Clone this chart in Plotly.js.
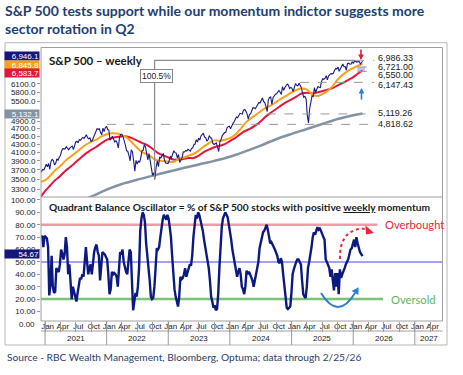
<!DOCTYPE html>
<html><head><meta charset="utf-8">
<script src="https://cdn.plot.ly/plotly-3.0.1.min.js"></script>
<style>html,body{margin:0;padding:0;background:#fff;}#chart{width:463px;height:375px;}</style>
</head><body><div id="chart"></div>
<script>
// ---------------- DATA ----------------
const spxStart = '2020-12-04'; // weekly (Fridays)
const spx = [
3699,3663,3709,3703,3756,
3825,3768,3841,3714,3887,3934,3907,3811,3842,3943,3913,3975,4020,4129,4185,4180,4181,4233,4174,4156,4204,4230,4247,4166,4281,4352,4370,4327,4412,4395,4437,4468,4442,4509,4535,4459,4433,4455,4357,4391,4471,4545,4605,4697,4683,4698,4595,4538,4712,4620,4726,4766,
4677,4662,4398,4432,4500,4419,4349,4385,4329,4204,4463,4543,4546,4488,4393,4272,4132,4123,4024,3901,4158,4109,3901,3675,3912,3825,3899,3863,3962,4130,4145,4280,4228,4058,3924,4067,3873,3693,3586,3640,3520,3753,3901,3771,3993,3965,4026,4072,3934,3852,3845,3840,
3895,3999,3973,4071,4136,4090,4079,3970,4046,3862,3917,3971,4109,4105,4138,4133,4169,4136,4124,4192,4205,4282,4299,4410,4348,4450,4399,4505,4536,4582,4478,4464,4370,4406,4516,4457,4450,4320,4288,4308,4327,4224,4117,4358,4415,4514,4559,4595,4604,4719,4755,4770,
4697,4784,4840,4891,4959,5027,5005,5089,5137,5124,5117,5234,5254,5204,5123,4967,5100,5128,5223,5303,5305,5278,5347,5432,5465,5460,5567,5615,5505,5459,5346,5186,5554,5634,5648,5408,5626,5703,5738,5751,5815,5865,5808,5729,5995,5870,5969,6032,6090,6051,5931,5970,
5942,5827,5997,6101,6041,6026,6115,6013,5955,5770,5639,5667,5581,5074,4860,5283,5525,5687,5660,5958,5803,5912,6000,5977,5968,6173,6279,6260,6297,6389,6238,6389,6450,6467,6460,6482,6584,6664,6644,6716,6553,6664,6792,6840,6729,6734,6603,6849,6870,6827,6835,6930,
6858,6966,6940,6915,6939,6932,6836,6909,6946.1
];
const maStartMonth = '2021-01'; // monthly points
const orangeMA = [
3480,3578,3687,3783,3899,3994,4084,4190,4288,4353,4412,4493,
4550,4576,4568,4527,4463,4335,4203,4095,4050,3964,3907,3900,
3880,3874,3935,3972,4017,4064,4139,4242,4331,4391,4380,4406,
4449,4530,4672,4853,4976,5085,5201,5303,5380,5484,5592,5692,
5798,5891,5930,5900,5740,5680,5740,5850,6017,6252,6430,6570,
6680,6780];
const redMA = [
3271,3381,3484,3574,3679,3767,3866,3972,4072,4157,4232,4320,
4404,4452,4480,4493,4493,4448,4387,4323,4267,4176,4081,4026,
3976,3929,3933,3941,3966,3964,4020,4108,4166,4221,4256,4296,
4374,4450,4546,4637,4702,4790,4902,5043,5161,5267,5378,5480,
5573,5671,5761,5790,5763,5797,5838,5893,5946,6040,6130,6230,
6340,6480];
const maFirst = {orange:3455, red:3168};          // left edge (Dec 2020)
const maLast  = {orange:6845.8, red:6583.7, gray:5132.1, price:6946.1};
const grayMA = [2940,2990,3060,3170,3300,3410,3495,3580,3660,3740,3820,3900,3994,4120,4260,4420,4560,4690,4830,4970,5080]; // quarterly from 2021-01
const lastDate = '2026-02-25';

const oscStart = '2020-12-08'; // weekly
const osc = [
70,71,62,71,
70,69,62,23,32,55,30,25,26,45,43,42,48,60,57,52,56,70,62,40,48,36,20,30,26,22,18,25,33,37,36,40,38,48,62,50,40,45,48,40,50,58,62,64,58,55,35,45,58,57,56,54,
52,40,24,28,42,40,41,40,38,30,45,58,56,60,50,45,42,40,50,60,58,25,11,18,25,22,30,45,75,85,90,88,82,65,55,50,35,22,20,21,30,45,61,60,62,70,78,84,88,86,84,
88,85,78,70,55,40,28,22,18,14,22,38,36,37,40,45,38,42,45,48,47,55,70,80,88,85,90,88,84,80,75,68,62,55,51,45,35,22,18,13,15,11,12,24,45,65,78,85,88,90,88,86,
80,75,68,60,54,50,45,38,42,45,40,30,28,24,30,43,40,42,40,38,35,30,35,43,45,50,61,65,70,74,75,78,80,76,70,65,66,63,62,60,58,55,50,49,53,50,40,30,24,13,12,13,14,
25,40,44,48,50,52,52,50,48,35,24,22,21,30,45,50,55,62,70,74,72,75,78,76,77,75,72,70,68,52,50,48,45,38,44,35,27,41,30,41,24,44,37,40,42,45,48,50,52,56,60,61,
65,68,62,70,65,61,58,54.67];

const yTicks = [3300,3500,3700,3900,4100,4300,4500,4700,4900,5500,5800,6100];
const oscTicks = [10,20,30,40,50,60,70,80,90,100];
const levels = [6986.33, 6721.00, 6550.00, 6147.43, 5119.26, 4818.62];
const levelStart = ['2026-01-12','2026-01-28','2026-01-28','2025-02-19','2024-08-05','2022-01-04'];
const levelShift = [2, 0, -4, -3, 1, 0];
const lowDate = '2022-10-12', lowValue = 3491, athDate = '2026-01-12';
const gainLabel = '100.5%';
const years = [2021,2022,2023,2024,2025,2026,2027];
const overbought = 80, oversold = 20, midLine = 50;

// ---------------- HELPERS ----------------
const W=463,H=375;
const px=x=>x/W, py=y=>1-y/H;
const P=(x,y)=>`${px(x).toFixed(5)},${py(y).toFixed(5)}`;
function weekly(start,n){const d0=Date.parse(start+'T00:00:00Z');const o=[];for(let i=0;i<n;i++)o.push(new Date(d0+i*7*864e5).toISOString().slice(0,10));return o;}
function monthly(start,n,step){const [y,m]=start.split('-').map(Number);const o=[];for(let i=0;i<n;i++){const t=(m-1)+i*step;o.push(`${y+Math.floor(t/12)}-${String(t%12+1).padStart(2,'0')}-01`);}return o;}
const fmt2=v=>v.toLocaleString('en-US',{minimumFractionDigits:2,maximumFractionDigits:2});
const fmt1=v=>v.toLocaleString('en-US',{minimumFractionDigits:1,maximumFractionDigits:1});
const L10=Math.log10;

const spxDates = weekly(spxStart, spx.length); spxDates[spxDates.length-1]=lastDate;
const maDates = monthly(maStartMonth, orangeMA.length, 1);
const grayDates = monthly(maStartMonth, grayMA.length, 3);
const oscDates = weekly(oscStart, osc.length); oscDates[oscDates.length-1]=lastDate;
const xStart='2020-12-08', xEnd='2027-06-14', labelEnd='2026-05-06';

const traces = [
 {x:[...grayDates,lastDate], y:[...grayMA,maLast.gray], mode:'lines', line:{color:'#8393a3',width:2.5,shape:'spline'}, xaxis:'x',yaxis:'y',hoverinfo:'skip'},
 {x:[xStart,...maDates,lastDate], y:[maFirst.red,...redMA,maLast.red], mode:'lines', line:{color:'#e3173e',width:2,shape:'spline'}, xaxis:'x',yaxis:'y',hoverinfo:'skip'},
 {x:[xStart,...maDates,lastDate], y:[maFirst.orange,...orangeMA,maLast.orange], mode:'lines', line:{color:'#f7a21b',width:2,shape:'spline'}, xaxis:'x',yaxis:'y',hoverinfo:'skip'},
 {x:spxDates, y:spx, mode:'lines', line:{color:'#1b1b86',width:1.1}, xaxis:'x',yaxis:'y',hoverinfo:'skip'},
 {x:oscDates, y:osc, mode:'lines', line:{color:'#0c1a80',width:2.4}, xaxis:'x',yaxis:'y2',hoverinfo:'skip'},
 {x:[xStart], y:[50], mode:'markers', marker:{opacity:0}, xaxis:'x2', yaxis:'y2', hoverinfo:'skip'}
];

const shapes = [
 {type:'rect',xref:'paper',yref:'paper',x0:px(5),x1:px(447),y0:py(345),y1:py(42.7),line:{color:'#b8b8b8',width:1}},
 {type:'rect',xref:'paper',yref:'paper',x0:px(41),x1:px(442.5),y0:py(321),y1:py(47.5),line:{color:'#a0a0a0',width:1}},
 {type:'line',xref:'paper',yref:'paper',x0:px(41),x1:px(442.5),y0:py(197),y1:py(197),line:{color:'#a0a0a0',width:1}},
 {type:'line',xref:'paper',yref:'paper',x0:px(41),x1:px(442.5),y0:py(331),y1:py(331),line:{color:'#a0a0a0',width:1}},
 // measurement lines
 {type:'line',xref:'x',yref:'y',x0:lowDate,x1:lowDate,y0:lowValue,y1:levels[0],line:{color:'#8c8c8c',width:1.3}},
 {type:'line',xref:'x',yref:'y',x0:lowDate,x1:athDate,y0:levels[0],y1:levels[0],line:{color:'#8c8c8c',width:1.3}},
 {type:'rect',xref:'x',yref:'y',x0:'2026-01-25',x1:'2026-03-12',y0:levels[2],y1:levels[1],fillcolor:'rgba(165,160,235,0.65)',line:{width:0},layer:'below'},
 // lower panel reference lines
 {type:'line',xref:'x',yref:'y2',x0:xStart,x1:'2026-05-24',y0:overbought,y1:overbought,line:{color:'#f29aa6',width:2.5},layer:'below'},
 {type:'line',xref:'x',yref:'y2',x0:xStart,x1:'2026-06-27',y0:oversold,y1:oversold,line:{color:'#79c276',width:2.5},layer:'below'},
 {type:'line',xref:'x',yref:'y2',x0:xStart,x1:xEnd,y0:midLine,y1:midLine,line:{color:'#8585f0',width:1.5},layer:'below'},
 // curved arrows
 {type:'path',xref:'paper',yref:'paper',path:`M${P(340,259)} C${P(339,236)} ${P(352,227)} ${P(367,229)}`,line:{color:'#e8283c',width:2,dash:'dot'}},
 {type:'path',xref:'paper',yref:'paper',path:`M${P(374,233)} L${P(365.5,225.5)} L${P(366,234.5)} Z`,fillcolor:'#e8283c',line:{width:0}},
 {type:'path',xref:'paper',yref:'paper',path:`M${P(321,293)} Q${P(338,321)} ${P(355,293)}`,line:{color:'#2a7fd0',width:2}},
 {type:'path',xref:'paper',yref:'paper',path:`M${P(358.6,287.2)} L${P(358.4,295)} L${P(351.6,291)} Z`,fillcolor:'#2a7fd0',line:{width:0}}
];
levels.forEach((v,i)=>shapes.push({type:'line',xref:'x',yref:'y',x0:(i===0?athDate:levelStart[i]),x1:labelEnd,y0:v,y1:v,line:{color:'#9a9a9a',width:1,dash:'dash'}}));
years.forEach(yr=>shapes.push({type:'line',xref:'x',yref:'paper',x0:`${yr}-01-01`,x1:`${yr}-01-01`,y0:py(345),y1:py(321),line:{color:'#9a9a9a',width:1}}));

const ann = [];
const A=o=>ann.push(Object.assign({showarrow:false},o));
A({text:'<b>S&P 500 – weekly</b>',xref:'paper',yref:'paper',x:px(47),y:py(60),xanchor:'left',yanchor:'middle',font:{family:'Lato',size:11.5,color:'#1a1a1a'}});
A({text:'<b>Quadrant Balance Oscillator = % of S&P 500 stocks with positive <u>weekly</u> momentum</b>',xref:'paper',yref:'paper',x:px(47),y:py(206.5),xanchor:'left',yanchor:'middle',font:{family:'Lato',size:10.2,color:'#1a1a1a'}});
A({text:gainLabel,xref:'paper',yref:'paper',x:px(156),y:py(75.5),xanchor:'center',yanchor:'middle',bgcolor:'#fff',bordercolor:'#888',borderwidth:1,borderpad:1,font:{size:8.5,color:'#222'}});
levels.forEach((v,i)=>A({text:fmt2(v),xref:'paper',yref:'y',x:px(376),y:L10(v),yshift:levelShift[i],xanchor:'left',yanchor:'middle',font:{size:9,color:'#222'}}));
[[maLast.price,'#15157a',5],[maLast.orange,'#f7a21b',-1],[maLast.red,'#e3173e',-2],[maLast.gray,'#8393a3',0]].forEach(([v,c,s])=>A({text:fmt1(v),xref:'paper',yref:'y',x:px(40),y:L10(v),yshift:s,xanchor:'right',yanchor:'middle',width:34,height:8,align:'right',bgcolor:c,borderpad:0,font:{size:8,color:'#fff'}}));
A({text:fmt2(osc[osc.length-1]),xref:'paper',yref:'y2',x:px(40),y:osc[osc.length-1],yshift:2,xanchor:'right',yanchor:'middle',width:34,height:8,align:'right',bgcolor:'#15157a',borderpad:0,font:{size:8,color:'#fff'}});
A({text:'0.00',xref:'paper',yref:'paper',x:px(37),y:py(324.3),xanchor:'right',yanchor:'middle',font:{size:8,color:'#1a1a1a'}});
A({text:'Overbought',xref:'paper',yref:'y2',x:px(383),y:overbought,xanchor:'left',yanchor:'middle',font:{family:'Lato',size:11.2,color:'#e8283c'}});
A({text:'Oversold',xref:'paper',yref:'y2',x:px(389),y:oversold,xanchor:'left',yanchor:'middle',font:{family:'Lato',size:11.2,color:'#5cb85c'}});
years.forEach(yr=>A({text:String(yr),xref:'x',yref:'paper',x:(yr===2027?'2027-03-24':`${yr}-07-02`),y:py(338),xanchor:'center',yanchor:'middle',font:{size:8,color:'#1a1a1a'}}));
A({text:'Source - RBC Wealth Management, Bloomberg, Optuma; data through 2/25/26',xref:'paper',yref:'paper',x:px(5),y:py(357),xanchor:'left',yanchor:'middle',font:{family:'Lato',size:10.2,color:'#2d4169'}});
ann.push({text:'',xref:'paper',yref:'paper',x:px(361),y:py(60),ax:0,ay:-12,showarrow:true,arrowhead:2,arrowsize:0.7,arrowwidth:1.6,arrowcolor:'#e3173e'});
ann.push({text:'',xref:'paper',yref:'paper',x:px(361.5),y:py(88),ax:0,ay:13,showarrow:true,arrowhead:2,arrowsize:0.7,arrowwidth:1.6,arrowcolor:'#2a7fd0'});

const layout = {
 width:W,height:H,margin:{l:0,r:0,t:0,b:0},paper_bgcolor:'#fff',plot_bgcolor:'#fff',showlegend:false,
 font:{family:'Liberation Sans, Arial, sans-serif',size:8,color:'#1a1a1a'},
 title:{text:'S&P 500 tests support while our momentum indictor suggests more<br>sector rotation in Q2',xref:'container',yref:'container',x:px(5),xanchor:'left',y:py(16),yanchor:'top',font:{family:'Lato',size:14,weight:700,color:'#213f72'}},
 xaxis:{domain:[px(41),px(442.5)],anchor:'y2',type:'date',range:[xStart,xEnd],showgrid:false,zeroline:false,showline:false,ticks:'',dtick:'M3',tick0:'2021-01-01',tickformat:'%b',ticklabelmode:'period',tickfont:{size:8},ticklabelstandoff:-1},
 xaxis2:{overlaying:'x',matches:'x',anchor:'y2',type:'date',showgrid:false,zeroline:false,showline:false,ticks:'outside',ticklen:10,tickcolor:'#9a9a9a',dtick:'M3',tick0:'2021-01-01',showticklabels:false},
 yaxis:{domain:[py(197),py(47.5)],anchor:'x',type:'log',range:[3.5,3.8765],tickvals:yTicks,ticktext:yTicks.map(v=>v.toFixed(1)),ticks:'outside',ticklen:3,tickcolor:'#999',showgrid:false,zeroline:false,showline:false},
 yaxis2:{domain:[py(321),py(197)],anchor:'x',range:[2.3,102.4],tickvals:oscTicks,ticktext:oscTicks.map(v=>v.toFixed(2)),ticks:'outside',ticklen:3,tickcolor:'#999',showgrid:false,zeroline:false,showline:false},
 shapes, annotations:ann
};
Plotly.newPlot('chart',traces,layout,{staticPlot:true,displayModeBar:false});
</script></body></html>
